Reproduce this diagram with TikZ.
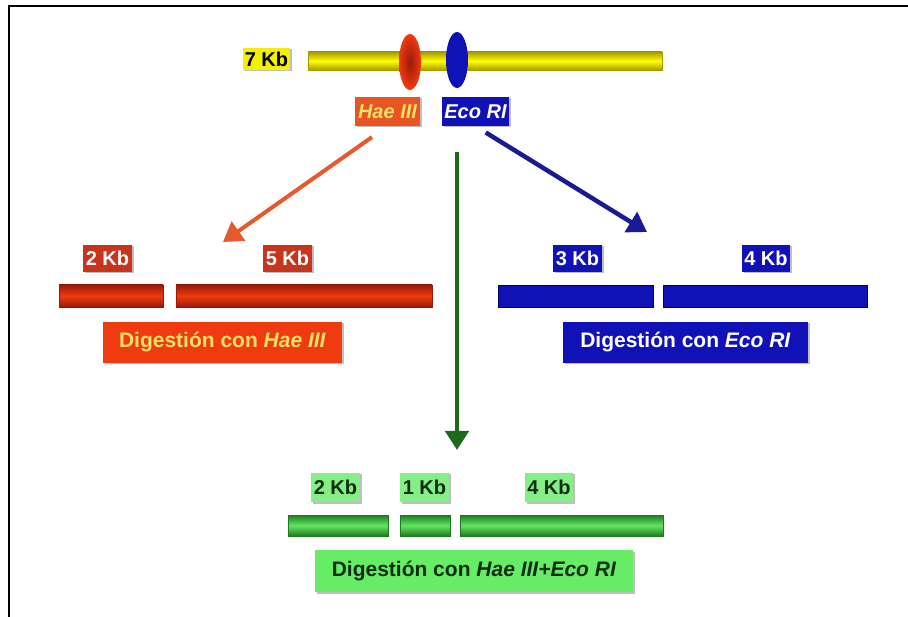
\documentclass[tikz,border=0pt]{standalone}
\usepackage{fontspec}
\setmainfont{Liberation Sans}
\usetikzlibrary{arrows.meta,shapes.geometric,shadows}
\definecolor{ydark}{HTML}{A89C00}
\definecolor{kbyellow}{HTML}{F4F000}
\definecolor{haered}{HTML}{F03A10}
\definecolor{haedark}{HTML}{9A1A08}
\definecolor{haedeep}{HTML}{C8341C}
\definecolor{haeorange}{HTML}{E85422}
\definecolor{haetext}{HTML}{F8E068}
\definecolor{haearrow}{HTML}{E8582E}
\definecolor{ecoblue}{HTML}{1012B8}
\definecolor{ecodark}{HTML}{00005A}
\definecolor{ecoarrow}{HTML}{1A1A96}
\definecolor{gedge}{HTML}{1E7A1E}
\definecolor{gmid}{HTML}{62E662}
\definecolor{glight}{HTML}{86EE86}
\definecolor{gfill}{HTML}{66EC66}
\definecolor{gtext}{HTML}{0E2E0E}
\definecolor{garrow}{HTML}{1C6A1C}
\tikzset{>={Triangle[width=23pt,length=19pt]}}
\tikzset{
  kb/.style={minimum width=49pt, minimum height=27pt, inner sep=0pt,
    font=\fontsize{20}{20}\selectfont\bfseries,
    drop shadow={shadow xshift=1.5pt,shadow yshift=-1.5pt,fill=black!50}},
  dig/.style={kb, minimum height=41pt, font=\fontsize{21}{21}\selectfont\bfseries},
  bar/.style={minimum height=22pt, inner sep=0pt, draw, line width=0.6pt},
  redbar/.style={bar, draw=haedark, top color=haedark, bottom color=haedark, middle color=haered},
  bluebar/.style={bar, draw=ecodark, fill=ecoblue},
  greenbar/.style={bar, draw=gedge, top color=gedge, bottom color=gedge, middle color=gmid},
  cut/.style={ellipse, minimum width=22pt, minimum height=56pt, inner sep=0pt}
}
\begin{document}
\begin{tikzpicture}[x=1pt,y=1pt]
    \useasboundingbox (0,0) rectangle (908,-617);
    \draw[line width=2.5pt] (908,-6) -- (9,-6) -- (9,-617);
    % ADN de 7 Kb y sitios de corte
    \node[kb, fill=kbyellow, minimum width=47pt, minimum height=22pt] (k7) at (266.5,-59) {7 Kb};
    \node[bar, draw=ydark, top color=ydark, bottom color=ydark, middle color=yellow, minimum width=354pt, minimum height=18pt] (dna) at (485,-61) {};
    \node[cut, inner color=haedark, outer color=haered] (cutH) at (410,-62) {};
    \node[cut, fill=ecoblue] (cutE) at (457,-60) {};
    \node[kb, fill=haeorange, text=haetext, minimum width=65pt, minimum height=29pt] (hae) at (387.5,-111.5) {\itshape Hae III};
    \node[kb, fill=ecoblue, text=white, minimum width=67pt, minimum height=29pt] (eco) at (475.5,-111.5) {\itshape Eco RI};
    \coordinate (hT) at (223,-242);
    \coordinate (eT) at (647,-232);
    \coordinate (gT) at (457,-450);
    \draw[->, line width=4pt, haearrow, shorten <=19pt] (hae.south) -- (hT);
    \draw[->, line width=4.5pt, ecoarrow, shorten <=12pt] (eco.south) -- (eT);
    \draw[->, line width=4.5pt, garrow] ([yshift=-26pt]eco.south -| cutE) -- (gT);
    % Hae III
    \node[kb, fill=haedeep, text=white] (h2) at (107.5,-258.5) {2 Kb};
    \node[kb, fill=haedeep, text=white] (h5) at (287.5,-258.5) {5 Kb};
    \node[redbar, minimum width=104pt] (hb1) at (111,-296) {};
    \node[redbar, minimum width=256pt] (hb2) at (304,-296) {};
    \node[dig, fill=haered, text=haetext, minimum width=239pt] (hdig) at (222.5,-342.5) {Digestión con \textit{Hae III}};
    % Eco RI
    \node[kb, fill=ecoblue, text=white] (e3) at (577.5,-258.5) {3 Kb};
    \node[kb, fill=ecoblue, text=white, minimum width=48pt] (e4) at (766,-258.5) {4 Kb};
    \node[bluebar, minimum width=155pt] (eb1) at (575.5,-296) {};
    \node[bluebar, minimum width=204pt] (eb2) at (765,-296) {};
    \node[dig, fill=ecoblue, text=white, minimum width=245pt] (edig) at (685.5,-342.5) {Digestión con \textit{Eco RI}};
    % Hae III + Eco RI
    \node[kb, fill=glight, text=gtext, minimum height=29pt] (g2) at (335.5,-487.5) {2 Kb};
    \node[kb, fill=glight, text=gtext, minimum height=29pt] (g1) at (424.5,-487.5) {1 Kb};
    \node[kb, fill=glight, text=gtext, minimum height=29pt, minimum width=48pt] (g4) at (549,-487.5) {4 Kb};
    \node[greenbar, minimum width=100pt, minimum height=21pt] (gb1) at (338,-525.5) {};
    \node[greenbar, minimum width=50pt, minimum height=21pt] (gb2) at (425,-525.5) {};
    \node[greenbar, minimum width=203pt, minimum height=21pt] (gb3) at (561.5,-525.5) {};
    \node[dig, fill=gfill, text=gtext, minimum width=318pt, minimum height=42pt] (gdig) at (474,-571) {Digestión con \textit{Hae III+Eco RI}};
\end{tikzpicture}
\end{document}
